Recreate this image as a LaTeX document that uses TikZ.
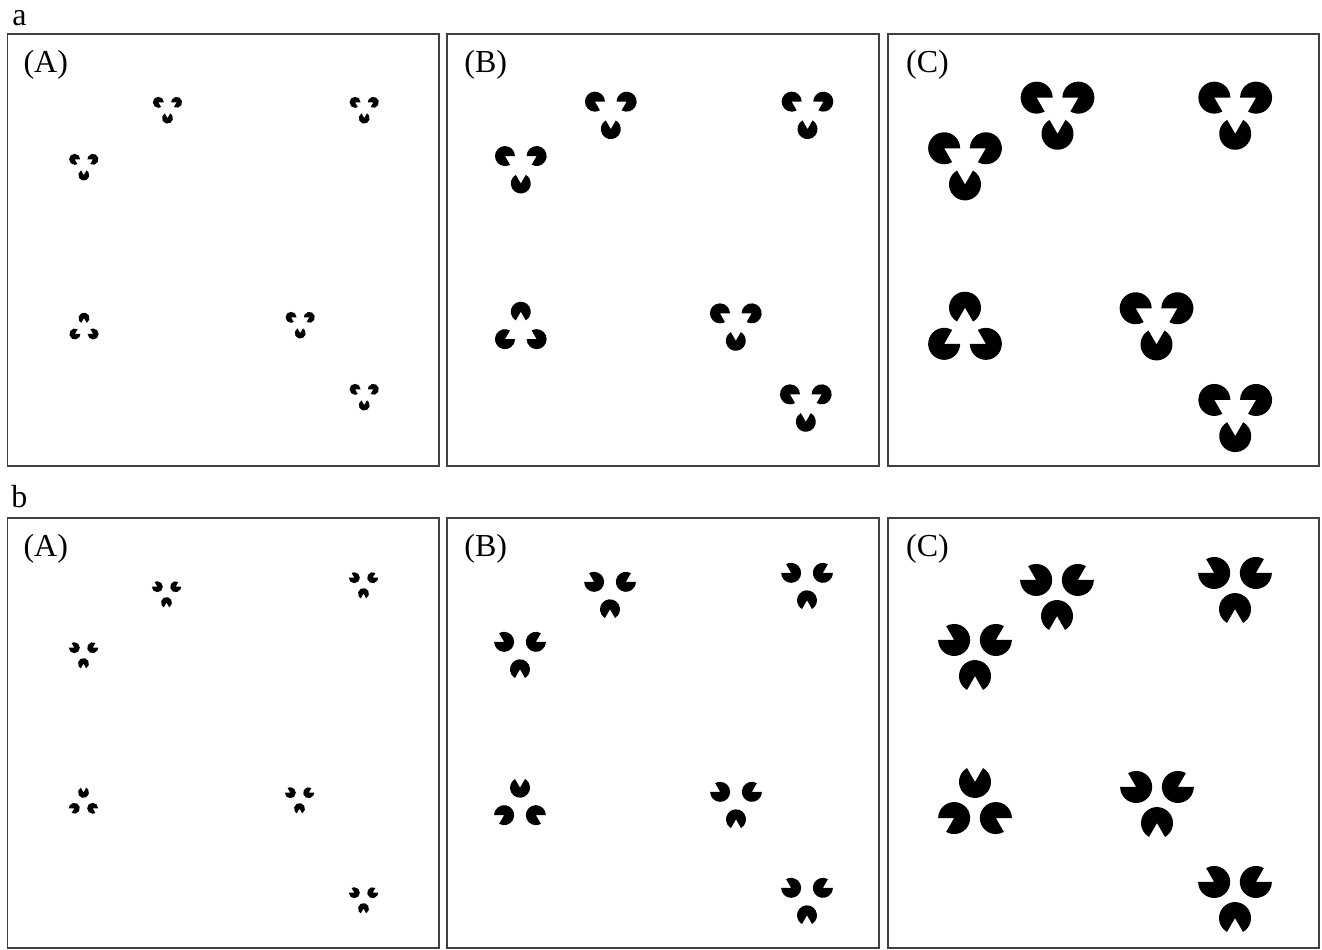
\documentclass[tikz,border=0pt]{standalone}
\usepackage{fontspec}
\setmainfont{Liberation Serif}
\newcommand\pacm[4]{%
  \fill[pacfill] (#1,#2) -- ++({#4+30}:#3pt) arc[start angle={#4+30}, delta angle=300, radius=#3pt] -- cycle;}
% cx cy(pixels, downward) side radius rotation
\newcommand\kdown[5]{%
  \pacm{{#1-#3/2}}{{-#2+#3*0.2887}}{#4}{-30+#5}%
  \pacm{{#1+#3/2}}{{-#2+#3*0.2887}}{#4}{210+#5}%
  \pacm{{#1}}{{-#2-#3*0.5774}}{#4}{90+#5}}
\newcommand\kup[5]{%
  \pacm{{#1}}{{-#2+#3*0.5774}}{#4}{270+#5}%
  \pacm{{#1-#3/2}}{{-#2-#3*0.2887}}{#4}{30+#5}%
  \pacm{{#1+#3/2}}{{-#2-#3*0.2887}}{#4}{150+#5}}
\begin{document}
\begin{tikzpicture}[x=1pt,y=1pt,
  pacfill/.style={fill=black},
  panel/.style={draw=black!75, line width=1.8pt},
  lab/.style={inner sep=0pt, font=\fontsize{32}{36}\selectfont}]
\useasboundingbox (0,0) rectangle (1322,-950);
% labels
\node[lab] (la) at (19.5,-18) {a};
\node[lab] (lb) at (19.5,-497) {b};
% panels row a
\draw[panel] (7.5,-34) rectangle (439.3,-466);
\draw[panel] (447.3,-34) rectangle (879.3,-466);
\draw[panel] (888.3,-34) rectangle (1319.3,-466);
% panels row b
\draw[panel] (7.5,-518) rectangle (439.3,-948);
\draw[panel] (447.3,-518) rectangle (879.3,-948);
\draw[panel] (888.3,-518) rectangle (1319.3,-948);
% panel labels
\node[lab] (aA) at (45.8,-64.5) {(A)};
\node[lab] (aB) at (485.8,-64.5) {(B)};
\node[lab] (aC) at (927.5,-64.5) {(C)};
\node[lab] (bA) at (45.8,-548.5) {(A)};
\node[lab] (bB) at (485.8,-548.5) {(B)};
\node[lab] (bC) at (927.5,-548.5) {(C)};
% ---- row a, panel A
\kdown{167.5}{107.6}{18.3}{5.5}{0}
\kdown{364.2}{107.6}{18.3}{5.5}{0}
\kdown{83.8}{164.6}{18.3}{5.5}{0}
\kup{84}{328.7}{18.3}{5.5}{0}
\kdown{300.2}{322.6}{18.3}{5.5}{0}
\kdown{364.2}{394.6}{18.3}{5.5}{0}
% ---- row a, panel B
\kdown{610.8}{110.8}{31.7}{10}{0}
\kdown{807.5}{110.8}{31.7}{10}{0}
\kdown{520.8}{165.2}{31.7}{10}{0}
\kup{520.8}{330}{31.7}{10}{0}
\kdown{735.8}{322.5}{31.7}{10}{0}
\kdown{805.8}{403.5}{31.7}{10}{0}
% ---- row a, panel C
\kdown{1057.5}{109.7}{41.7}{16}{0}
\kdown{1235.2}{109.7}{41.7}{16}{0}
\kdown{965}{160.3}{41.7}{16}{0}
\kup{965}{331.8}{41.7}{16}{0}
\kdown{1156.5}{320.3}{41.7}{16}{0}
\kdown{1235.2}{412}{41.7}{16}{0}
% ---- row b, panel A
\kdown{166.5}{592}{18.3}{5.5}{180}
\kdown{363.5}{583}{18.3}{5.5}{180}
\kdown{83.5}{653}{18.3}{5.5}{180}
\kup{83.5}{803}{18.3}{5.5}{180}
\kdown{299.5}{798}{18.3}{5.5}{180}
\kdown{363.5}{898}{18.3}{5.5}{180}
% ---- row b, panel B
\kdown{610}{591}{31.7}{10}{180}
\kdown{807}{582}{31.7}{10}{180}
\kdown{520}{651}{31.7}{10}{180}
\kup{520}{806}{31.7}{10}{180}
\kdown{736}{801}{31.7}{10}{180}
\kdown{807}{897}{31.7}{10}{180}
% ---- row b, panel C
\kdown{1057}{592}{41.7}{16}{180}
\kdown{1235}{585}{41.7}{16}{180}
\kdown{975}{652}{41.7}{16}{180}
\kup{975}{806}{41.7}{16}{180}
\kdown{1157}{799}{41.7}{16}{180}
\kdown{1235}{894}{41.7}{16}{180}
\end{tikzpicture}
\end{document}
